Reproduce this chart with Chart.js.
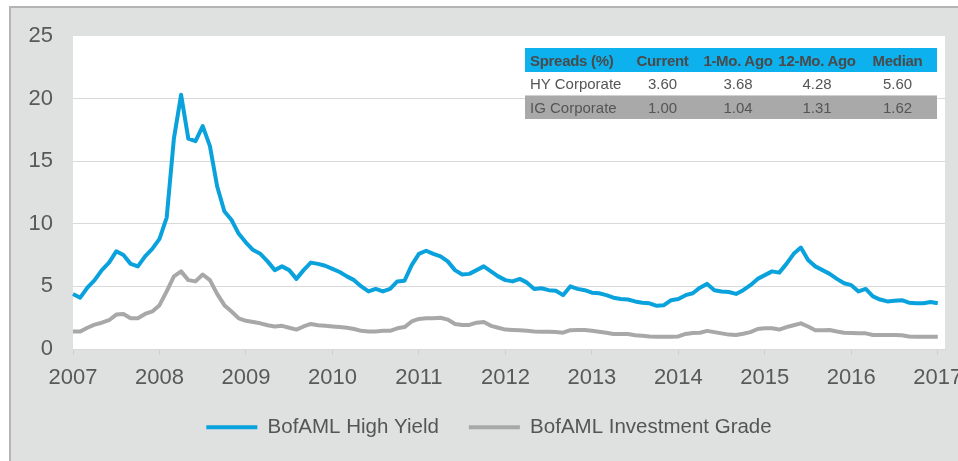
<!DOCTYPE html>
<html>
<head>
<meta charset="utf-8">
<script src="https://cdn.jsdelivr.net/npm/chart.js@4.4.1/dist/chart.umd.min.js"></script>
<style>
  html, body { margin: 0; padding: 0; background: #fff; }
  #wrap { position: relative; width: 958px; height: 461px; overflow: hidden; }
  #panel { position: absolute; left: 9px; top: 6px; right: 0; bottom: 0;
           background: #dfe0e0; border-left: 2px solid #b4b4b4; border-top: 2px solid #b4b4b4; }
  #chart { position: absolute; left: 0; top: 0; }
  #spreads { position: absolute; left: 525px; top: 48px; width: 412px; border-collapse: collapse;
             table-layout: fixed; white-space: nowrap;
             font-family: "Liberation Sans", Arial, sans-serif;
             font-size: 15px; color: #555; }
  #spreads th { background: #0cb1ee; font-weight: bold; height: 24px; padding: 0; color: #4a4a4a;
                letter-spacing: -0.3px; overflow: visible; }
  #spreads td { height: 23px; padding: 0; text-align: center; }
  #spreads th:first-child, #spreads td:first-child { text-align: left; padding-left: 5px; }
  #spreads tr.ig td { background: #a9a9a9; border-top: 1px solid #d0d0d0; }
</style>
</head>
<body>
<div id="wrap">
  <div id="panel"></div>
  <canvas id="chart" width="958" height="461"></canvas>
  <table id="spreads">
    <colgroup>
      <col style="width:100px"><col style="width:75px"><col style="width:76px"><col style="width:82px"><col style="width:79px">
    </colgroup>
    <thead><tr id="hdr"></tr></thead>
    <tbody id="rows"></tbody>
  </table>
</div>
<script>
// tick labels (years) and monthly HY / IG spreads, Jan 2007 .. Jan 2017
const yearTicks = ["2007", "2008", "2009", "2010", "2011", "2012", "2013", "2014", "2015", "2016", "2017"];

const highYield = [
  4.4, 4.1, 4.9, 5.5, 6.3, 6.9, 7.8, 7.5, 6.8, 6.6, 7.4, 8.0,
  8.8, 10.5, 16.8, 20.3, 16.8, 16.6, 17.8, 16.2, 13.0, 11.0, 10.3, 9.2,
  8.5, 7.9, 7.6, 7.0, 6.3, 6.6, 6.3, 5.6, 6.3, 6.9, 6.8, 6.65,
  6.4, 6.15, 5.8, 5.5, 5.0, 4.6, 4.8, 4.6, 4.8, 5.4, 5.45, 6.7,
  7.6, 7.85, 7.6, 7.4, 7.0, 6.3, 5.95, 6.0, 6.3, 6.6, 6.2, 5.8,
  5.5, 5.4, 5.6, 5.3, 4.8, 4.85, 4.7, 4.65, 4.3, 5.0, 4.8, 4.7,
  4.5, 4.45, 4.3, 4.1, 4.0, 3.95, 3.8, 3.7, 3.65, 3.45, 3.5, 3.9,
  4.0, 4.3, 4.45, 4.9, 5.2, 4.7, 4.6, 4.55, 4.4, 4.7, 5.1, 5.6,
  5.9, 6.2, 6.1, 6.8, 7.6, 8.1, 7.1, 6.6, 6.3, 6.0, 5.6, 5.25,
  5.1, 4.6, 4.8, 4.2, 3.95, 3.8, 3.85, 3.9, 3.7, 3.65, 3.65, 3.75,
  3.65
];

const investmentGrade = [
  1.4, 1.4, 1.7, 1.95, 2.1, 2.3, 2.75, 2.8, 2.45, 2.45, 2.8, 3.0,
  3.5, 4.6, 5.8, 6.2, 5.5, 5.4, 5.95, 5.5, 4.4, 3.5, 3.0, 2.45,
  2.25, 2.15, 2.05, 1.9, 1.8, 1.85, 1.7, 1.55, 1.8, 2.0, 1.9, 1.85,
  1.8, 1.75, 1.7, 1.6, 1.45, 1.4, 1.4, 1.45, 1.45, 1.65, 1.75, 2.2,
  2.4, 2.45, 2.45, 2.5, 2.35, 2.0, 1.92, 1.92, 2.1, 2.15, 1.85, 1.7,
  1.55, 1.52, 1.5, 1.45, 1.4, 1.38, 1.38, 1.35, 1.3, 1.5, 1.52, 1.52,
  1.45, 1.38, 1.3, 1.2, 1.2, 1.2, 1.1, 1.05, 1.0, 0.98, 0.98, 0.98,
  1.0, 1.2, 1.28, 1.3, 1.45, 1.35, 1.25, 1.15, 1.12, 1.22, 1.35, 1.6,
  1.65, 1.65, 1.55, 1.75, 1.9, 2.05, 1.8, 1.5, 1.5, 1.52, 1.4, 1.3,
  1.28, 1.25, 1.25, 1.12, 1.12, 1.12, 1.12, 1.1, 1.0, 0.98, 0.98, 0.98,
  0.98
];

// summary table
const tableHeader = ["Spreads (%)", "Current", "1-Mo. Ago", "12-Mo. Ago", "Median"];
const hyRow = ["HY Corporate", "3.60", "3.68", "4.28", "5.60"];
const igRow = ["IG Corporate", "1.00", "1.04", "1.31", "1.62"];

document.getElementById("hdr").innerHTML = tableHeader.map(t => `<th>${t}</th>`).join("");
document.getElementById("rows").innerHTML =
  `<tr>${hyRow.map(t => `<td>${t}</td>`).join("")}</tr>` +
  `<tr class="ig">${igRow.map(t => `<td>${t}</td>`).join("")}</tr>`;

// monthly category labels, one extra month so the plot runs a little past Jan 2017
const months = [];
yearTicks.forEach(y => { for (let m = 1; m <= 12; m++) months.push(y + "-" + m); });
months.length = 122;

const whiteArea = {
  id: "whiteArea",
  beforeDraw(chart) {
    const a = chart.chartArea, c = chart.ctx;
    c.save();
    c.fillStyle = "#ffffff";
    c.fillRect(a.left, a.top, a.right - a.left, a.bottom - a.top);
    c.restore();
  }
};

// legend sits a bit right of the canvas centre in the original
const legendNudge = {
  id: "legendNudge",
  afterLayout(chart) {
    chart.legend.left += 33;
    chart.legend.top -= 4;
  }
};

const axisFont = { family: "Liberation Sans, Arial, sans-serif", size: 22 };

new Chart(document.getElementById("chart").getContext("2d"), {
  type: "line",
  data: {
    labels: months,
    datasets: [
      {
        label: "BofAML High Yield",
        data: highYield,
        borderColor: "#0aa2dc",
        backgroundColor: "#0aa2dc",
        borderWidth: 4,
        pointRadius: 0,
        tension: 0,
        borderJoinStyle: "round"
      },
      {
        label: "BofAML Investment Grade",
        data: investmentGrade,
        borderColor: "#a8a8a8",
        backgroundColor: "#a8a8a8",
        borderWidth: 4,
        pointRadius: 0,
        tension: 0,
        borderJoinStyle: "round"
      }
    ]
  },
  plugins: [whiteArea, legendNudge],
  options: {
    responsive: false,
    animation: false,
    layout: { padding: { top: 36, right: 13, left: 0, bottom: 9.5 } },
    plugins: {
      tooltip: { enabled: false },
      legend: {
        position: "bottom",
        labels: {
          usePointStyle: true,
          pointStyle: "line",
          pointStyleWidth: 51,
          padding: 30,
          color: "#555",
          font: { family: "Liberation Sans, Arial, sans-serif", size: 20.5 }
        }
      }
    },
    scales: {
      x: {
        offset: false,
        border: { display: true, color: "#d9d9d9" },
        grid: {
          drawOnChartArea: false,
          tickLength: 6,
          color: ctx => (ctx.index % 12 === 0 ? "#cfcfcf" : "rgba(0,0,0,0)")
        },
        ticks: {
          autoSkip: false,
          maxRotation: 0,
          padding: 10,
          color: "#595959",
          font: axisFont,
          callback: (v, i) => (i % 12 === 0 ? yearTicks[i / 12] : "")
        },
        afterFit: s => { s.height = 42; }
      },
      y: {
        min: 0,
        max: 25,
        border: { display: false },
        grid: {
          drawTicks: false,
          color: ctx => (ctx.tick && ctx.tick.value === 25 ? "rgba(0,0,0,0)" : "#d9d9d9")
        },
        ticks: { stepSize: 5, padding: 20, color: "#595959", font: axisFont },
        afterFit: s => { s.width = 73; }
      }
    }
  }
});
</script>
</body>
</html>
